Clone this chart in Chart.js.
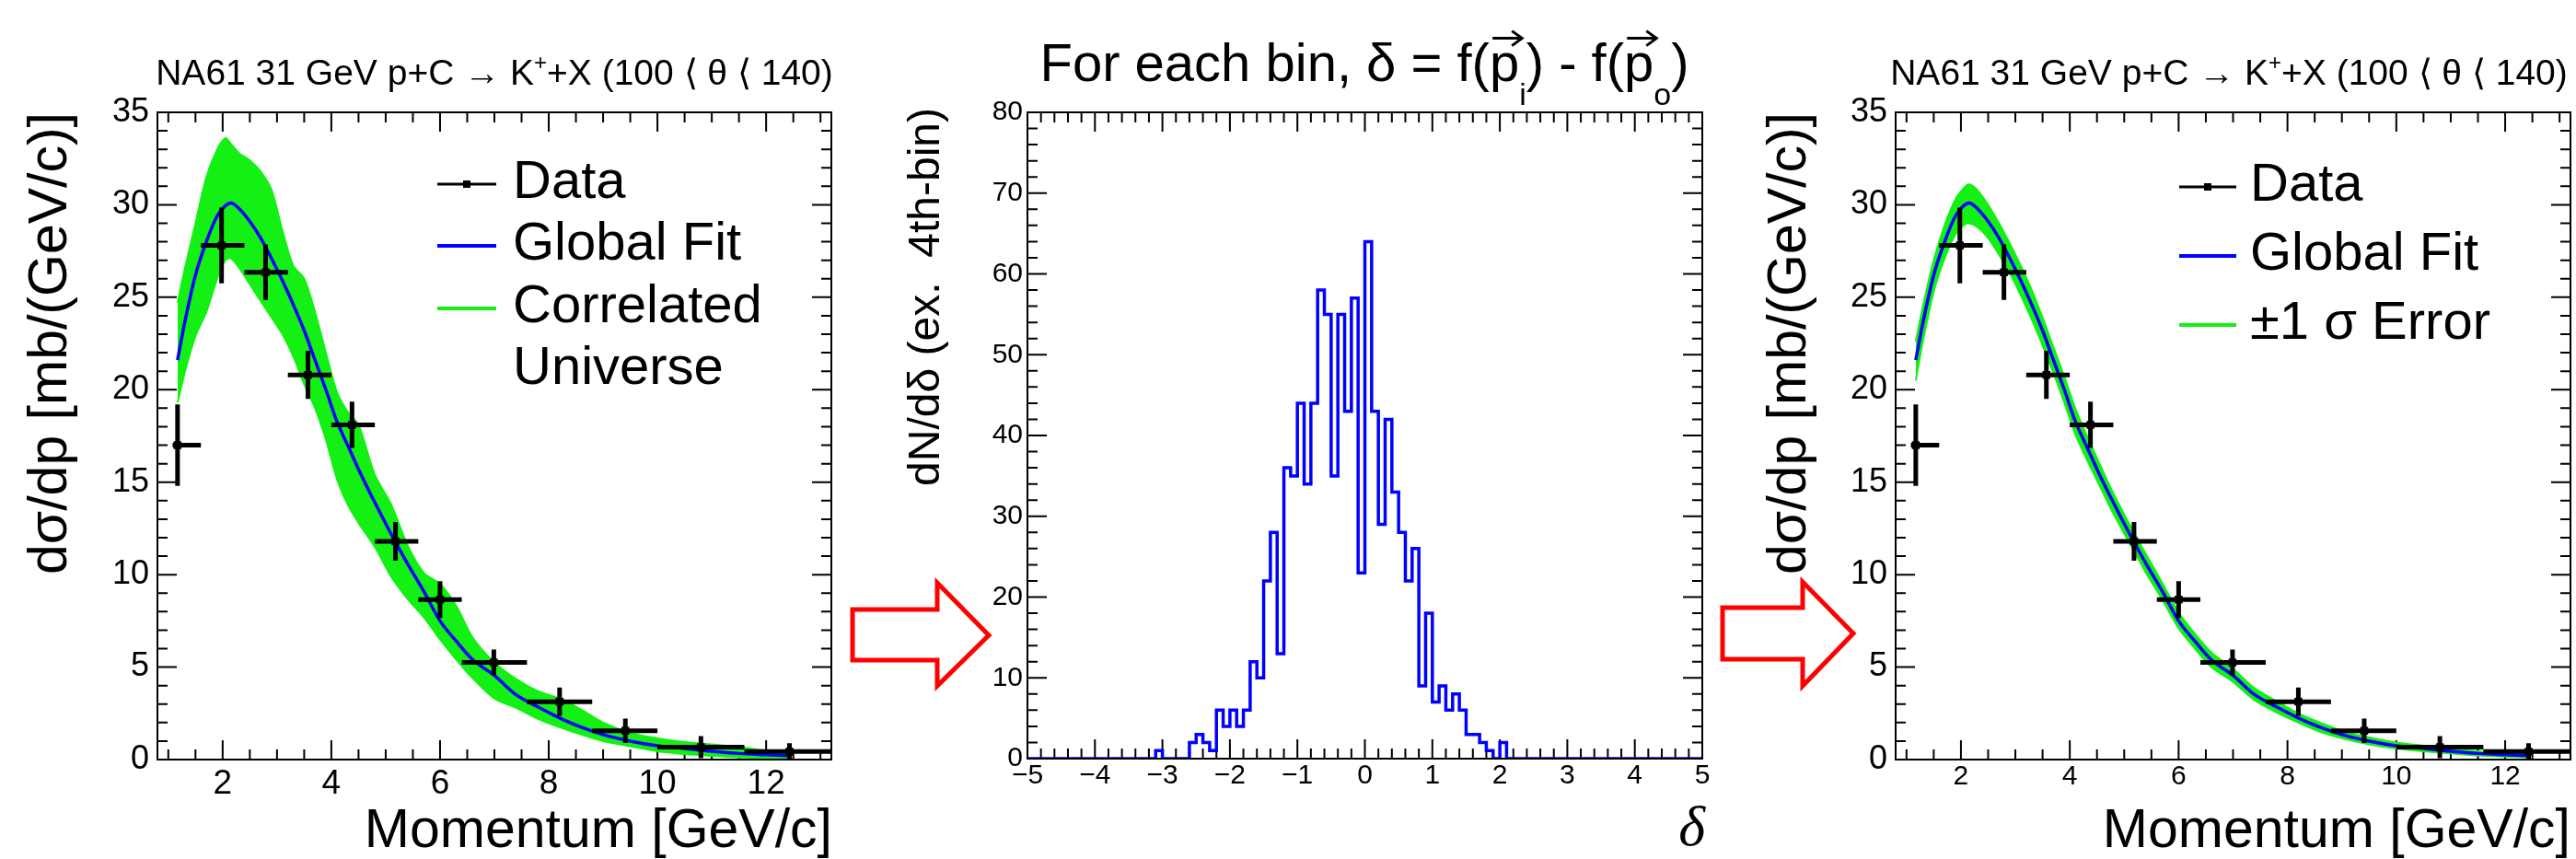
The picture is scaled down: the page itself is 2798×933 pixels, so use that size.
<!DOCTYPE html>
<html><head><meta charset="utf-8">
<script src="https://cdn.jsdelivr.net/npm/chart.js@4/dist/chart.umd.min.js"></script>
<style>
html,body{margin:0;padding:0;background:#fff;}
#wrap{position:relative;width:2798px;height:933px;overflow:hidden;background:#fff;}
.box{position:absolute;top:0;height:933px;}
canvas{display:block;}
svg{position:absolute;left:0;top:0;}
</style></head><body>
<div id="wrap">
  <div class="box" style="left:0px;width:930px"><canvas id="c1" width="930" height="933"></canvas></div>
  <div class="box" style="left:930px;width:950px"><canvas id="c2" width="950" height="933"></canvas></div>
  <div class="box" style="left:1880px;width:918px"><canvas id="c3" width="918" height="933"></canvas></div>
  <svg width="2798" height="933">
    <polygon points="926,662 1018,662 1018,633 1074,690 1018,745 1018,717 926,717" fill="#fff" stroke="#ff0000" stroke-width="5" stroke-linejoin="miter"/>
    <polygon points="1871,660 1958,660 1958,632 2013,688 1958,745 1958,716 1871,716" fill="#fff" stroke="#ff0000" stroke-width="5" stroke-linejoin="miter"/>
  </svg>
</div>
<script>
// ---------------- DATA ----------------
// Momentum grid on which curves were read (GeV/c)
const momentumGrid = [1.17,1.3,1.5,1.7,1.9,2.05,2.15,2.3,2.5,2.7,2.9,3.1,3.3,3.5,3.7,3.9,4.1,4.3,4.5,4.8,5.1,5.4,5.7,6.0,6.3,6.6,7.0,7.4,7.8,8.2,8.6,9.0,9.5,10.0,10.5,11.0,11.5,12.0,12.47];
const globalFit     = [21.6,23.6,26.2,28.0,29.4,29.95,30.1,29.8,29.1,28.2,27.1,25.9,24.6,23.2,21.6,20.0,18.3,17.0,15.7,13.9,12.2,10.6,9.1,7.5,6.4,5.4,4.55,3.5,2.85,2.25,1.75,1.35,1.0,0.75,0.6,0.45,0.33,0.26,0.2];
// Envelope of the correlated universes (left panel)
const universeUpper = [24.7,26.5,29.0,31.5,33.0,33.6,33.3,32.8,32.4,31.8,30.8,28.6,26.7,26.0,24.2,22.0,19.9,18.8,18.1,15.4,13.8,11.6,10.1,9.5,8.3,6.6,5.25,4.35,3.7,3.3,2.7,2.0,1.45,1.15,0.95,0.82,0.68,0.48,0.3];
const universeLower = [19.3,20.9,22.9,24.2,26.0,27.0,27.1,26.6,25.7,24.8,23.9,23.0,21.8,20.3,19.0,17.3,15.2,13.8,12.8,11.5,9.9,8.7,7.7,6.5,5.4,4.4,3.3,2.8,2.2,1.75,1.35,1.0,0.72,0.45,0.3,0.2,0.12,0.08,0.05];
// +-1 sigma error band (right panel)
const sigmaUpper = [22.6,24.5,27.0,28.9,30.3,30.9,31.1,30.8,30.0,29.0,27.9,26.7,25.4,23.9,22.3,20.7,19.0,17.6,16.3,14.4,12.7,11.1,9.55,7.95,6.8,5.8,4.9,3.85,3.15,2.5,2.0,1.55,1.2,0.92,0.75,0.58,0.45,0.36,0.3];
const sigmaLower = [20.5,22.6,25.3,27.1,28.4,28.9,29.0,28.8,28.2,27.3,26.3,25.1,23.8,22.4,20.9,19.3,17.6,16.3,15.1,13.3,11.7,10.1,8.65,7.1,6.0,5.0,4.2,3.2,2.55,2.0,1.5,1.15,0.82,0.6,0.45,0.33,0.22,0.16,0.12];
// NA61 data points
const dataP     = [1.17,1.98,2.79,3.57,4.38,5.18,6.0,6.99,8.2,9.41,10.8,12.43];
const dataXsec  = [17.0,27.8,26.35,20.8,18.1,11.8,8.65,5.25,3.13,1.56,0.67,0.43];
const dataPLow  = [1.08,1.6,2.4,3.2,4.0,4.8,5.6,6.4,7.6,8.8,10.0,11.6];
const dataPHigh = [1.6,2.4,3.2,4.0,4.8,5.6,6.4,7.6,8.8,10.0,11.6,13.2];
const dataErr   = [2.2,2.05,1.5,1.3,1.25,1.05,1.0,0.7,0.76,0.66,0.6,0.45];
// delta histogram (100 bins from -5 to 5)
const deltaBinStart = -5;
const deltaBinWidth = 0.1;
const deltaCounts = [0,0,0,0,0,0,0,0,0,0, 0,0,0,0,0,0,0,0,0,1,
                     0,0,0,0,2,3,2,1,6,4, 6,4,6,12,10,22,28,13,36,35,
                     44,34,44,58,55,35,55,43,57,23, 64,43,29,42,33,28,22,26,9,18,
                     7,9,6,8,6,3,3,2,1,0, 2,0,0,0,0,0,0,0,0,0,
                     0,0,0,0,0,0,0,0,0,0, 0,0,0,0,0,0,0,0,0,0];
// tick labels
const momTicks = [2,4,6,8,10,12];
const xsecTicks = [0,5,10,15,20,25,30,35];
const deltaTicks = [-5,-4,-3,-2,-1,0,1,2,3,4,5];
const deltaTickLabels = ['\u22125','\u22124','\u22123','\u22122','\u22121','0','1','2','3','4','5'];
const countTicks = [0,10,20,30,40,50,60,70,80];

// ---------------- HELPERS ----------------
const FONT = '"Liberation Sans", Arial, Helvetica, sans-serif';
const GREEN = '#14f014', BLUE = '#0000ff';
const pts = (xs, ys) => xs.map((x, i) => ({x, y: ys[i]}));
function hBars() {
  const o = [];
  dataP.forEach((p, i) => { o.push({x: dataPLow[i], y: dataXsec[i]}, {x: dataPHigh[i], y: dataXsec[i]}, {x: dataPHigh[i], y: null}); });
  return o;
}
function vBars() {
  const o = [];
  dataP.forEach((p, i) => { o.push({x: p, y: dataXsec[i] - dataErr[i]}, {x: p, y: dataXsec[i] + dataErr[i]}, {x: p, y: null}); });
  return o;
}
function histPoints() {
  const o = deltaCounts.map((c, i) => ({x: deltaBinStart + i * deltaBinWidth, y: c}));
  o.push({x: deltaBinStart + deltaCounts.length * deltaBinWidth, y: deltaCounts[deltaCounts.length - 1]});
  return o;
}
function frame(cfg) {
  return {
    id: 'rootFrame',
    beforeDatasetsDraw(chart) {
      const {ctx, chartArea: a, scales: {x, y}} = chart;
      ctx.save(); ctx.strokeStyle = '#000'; ctx.lineWidth = 2; ctx.beginPath();
      const xt = (step, len) => {
        for (let n = Math.ceil(x.min / step - 1e-6); n * step <= x.max + 1e-6; n++) {
          const px = x.getPixelForValue(n * step);
          ctx.moveTo(px, a.bottom); ctx.lineTo(px, a.bottom - len);
          ctx.moveTo(px, a.top); ctx.lineTo(px, a.top + len);
        }
      };
      const yt = (step, len) => {
        for (let n = Math.ceil(y.min / step - 1e-6); n * step <= y.max + 1e-6; n++) {
          const py = y.getPixelForValue(n * step);
          ctx.moveTo(a.left, py); ctx.lineTo(a.left + len, py);
          ctx.moveTo(a.right, py); ctx.lineTo(a.right - len, py);
        }
      };
      xt(cfg.xMinor, cfg.minLen); xt(cfg.xMajor, cfg.majLen);
      yt(cfg.yMinor, cfg.minLen); yt(cfg.yMajor, cfg.majLen);
      ctx.stroke(); ctx.restore();
    },
    afterDatasetsDraw(chart) {
      const {ctx, chartArea: a} = chart;
      ctx.save(); ctx.strokeStyle = '#000'; ctx.lineWidth = 2;
      ctx.strokeRect(a.left, a.top, a.right - a.left, a.bottom - a.top);
      ctx.restore();
    }
  };
}
function rich(ctx, segs, x, y, align) {
  let total = 0;
  segs.forEach(s => { ctx.font = `${s.italic ? 'italic ' : ''}${s.size}px ${s.family || FONT}`; s.w = ctx.measureText(s.t).width; total += s.w; });
  let cx = align === 'center' ? x - total / 2 : (align === 'right' ? x - total : x);
  ctx.textAlign = 'left'; ctx.textBaseline = 'alphabetic'; ctx.fillStyle = '#000';
  segs.forEach(s => {
    ctx.font = `${s.italic ? 'italic ' : ''}${s.size}px ${s.family || FONT}`;
    ctx.fillText(s.t, cx, y + (s.dy || 0));
    if (s.vec) {
      const ay = y - s.size * 0.8, x0 = cx + s.w * 0.1, x1 = cx + s.w + 3;
      ctx.save(); ctx.strokeStyle = '#000'; ctx.lineWidth = 3; ctx.beginPath();
      ctx.moveTo(x0, ay); ctx.lineTo(x1, ay);
      ctx.moveTo(x1 - 11, ay - 8); ctx.lineTo(x1, ay); ctx.lineTo(x1 - 11, ay + 8);
      ctx.stroke(); ctx.restore();
    }
    cx += s.w;
  });
}
function vText(ctx, t, x, y, size) {
  ctx.save(); ctx.translate(x, y); ctx.rotate(-Math.PI / 2);
  ctx.font = `${size}px ${FONT}`; ctx.fillStyle = '#000'; ctx.textAlign = 'right'; ctx.textBaseline = 'alphabetic';
  ctx.fillText(t, 0, 0); ctx.restore();
}
function hText(ctx, t, x, y, size, align, family, italic) {
  ctx.save(); ctx.font = `${italic ? 'italic ' : ''}${size}px ${family || FONT}`; ctx.fillStyle = '#000';
  ctx.textAlign = align; ctx.textBaseline = 'alphabetic'; ctx.fillText(t, x, y); ctx.restore();
}
function legend(ctx, x0, x1, tx, entries) {
  entries.forEach(e => {
    ctx.save(); ctx.strokeStyle = e.color; ctx.lineWidth = e.lw; ctx.beginPath();
    ctx.moveTo(x0, e.y); ctx.lineTo(x1, e.y); ctx.stroke();
    if (e.marker) { ctx.fillStyle = '#000'; ctx.fillRect((x0 + x1) / 2 - 4, e.y - 4, 8, 8); }
    ctx.restore();
    e.lines.forEach((l, k) => hText(ctx, l, tx, e.y + 15 + k * 67, 58, 'left'));
  });
}
function momScales(yw, tickSize, tickPad) {
  return {
    x: {type: 'linear', min: 0.8, max: 13.2,
        afterBuildTicks: s => { s.ticks = momTicks.map(v => ({value: v})); },
        afterFit: s => { s.height = 60; },
        grid: {display: false, drawTicks: false}, border: {display: false},
        ticks: {color: '#000', font: {family: FONT, size: tickSize}, padding: tickPad, maxRotation: 0, autoSkip: false,
                callback: v => String(momTicks[momTicks.indexOf(v)])}},
    y: {type: 'linear', min: 0, max: 35,
        afterBuildTicks: s => { s.ticks = xsecTicks.map(v => ({value: v})); },
        afterFit: s => { s.width = yw; },
        grid: {display: false, drawTicks: false}, border: {display: false},
        ticks: {color: '#000', font: {family: FONT, size: 36}, padding: 9, autoSkip: false,
                callback: v => String(xsecTicks[xsecTicks.indexOf(v)])}}
  };
}
function dataSets(bandUp, bandLo, bandLabel) {
  return [
    {label: 'Data x-err', data: hBars(), borderColor: '#000', borderWidth: 5, pointRadius: 0, spanGaps: false, fill: false, borderCapStyle: 'butt'},
    {label: 'Data y-err', data: vBars(), borderColor: '#000', borderWidth: 5, pointRadius: 0, spanGaps: false, fill: false, borderCapStyle: 'butt'},
    {label: 'Data', data: pts(dataP, dataXsec), showLine: false, pointStyle: 'rect', pointRadius: 6, backgroundColor: '#000', borderWidth: 0},
    {label: 'Global Fit', data: pts(momentumGrid, globalFit), borderColor: BLUE, borderWidth: 3.5, pointRadius: 0, fill: false, cubicInterpolationMode: 'monotone'},
    {label: bandLabel + ' upper', data: pts(momentumGrid, bandUp), borderColor: GREEN, borderWidth: 2, pointRadius: 0, fill: false, tension: 0.3},
    {label: bandLabel + ' lower', data: pts(momentumGrid, bandLo), borderColor: GREEN, borderWidth: 2, pointRadius: 0, fill: '-1', backgroundColor: GREEN, tension: 0.3}
  ];
}
const common = {responsive: false, animation: false, devicePixelRatio: 1,
  plugins: {legend: {display: false}, tooltip: {enabled: false}, title: {display: false}}};

// ---------------- LEFT ----------------
new Chart(document.getElementById('c1'), {
  type: 'line',
  data: {datasets: dataSets(universeUpper, universeLower, 'Correlated Universe')},
  options: Object.assign({}, common, {
    layout: {padding: {left: 0, right: 27, top: 122, bottom: 48}},
    scales: momScales(171, 37, 5)
  }),
  plugins: [frame({xMajor: 2, xMinor: 0.5, yMajor: 5, yMinor: 1, majLen: 21, minLen: 11}), {
    id: 'txt1', afterDraw(chart) {
      const ctx = chart.ctx;
      rich(ctx, [{t: 'NA61 31 GeV p+C \u2192 K', size: 39}, {t: '+', size: 24, dy: -16}, {t: '+X (100 \u27E8 \u03B8 \u27E8 140)', size: 39}], 537, 92, 'center');
      vText(ctx, 'd\u03C3/dp [mb/(GeV/c)]', 72, 122, 59);
      hText(ctx, 'Momentum [GeV/c]', 904, 920, 59, 'right');
      legend(ctx, 475, 539, 557, [
        {y: 200, color: '#000', lw: 3, marker: true, lines: ['Data']},
        {y: 267, color: BLUE, lw: 4, lines: ['Global Fit']},
        {y: 335, color: GREEN, lw: 4, lines: ['Correlated', 'Universe']}
      ]);
    }
  }]
});

// ---------------- MIDDLE ----------------
new Chart(document.getElementById('c2'), {
  type: 'line',
  data: {datasets: [
    {label: 'dN/d\u03B4', data: histPoints(), stepped: true, borderColor: BLUE, borderWidth: 3.5, pointRadius: 0, fill: false}
  ]},
  options: Object.assign({}, common, {
    layout: {padding: {left: 0, right: 31, top: 122, bottom: 49}},
    scales: {
      x: {type: 'linear', min: -5, max: 5,
          afterBuildTicks: s => { s.ticks = deltaTicks.map(v => ({value: v})); },
          afterFit: s => { s.height = 60; },
          grid: {display: false, drawTicks: false}, border: {display: false},
          ticks: {color: '#000', font: {family: FONT, size: 30}, padding: 1, maxRotation: 0, autoSkip: false,
                  callback: v => deltaTickLabels[deltaTicks.indexOf(v)]}},
      y: {type: 'linear', min: 0, max: 80,
          afterBuildTicks: s => { s.ticks = countTicks.map(v => ({value: v})); },
          afterFit: s => { s.width = 186; },
          grid: {display: false, drawTicks: false}, border: {display: false},
          ticks: {color: '#000', font: {family: FONT, size: 30}, padding: 5, autoSkip: false,
                  callback: v => String(countTicks[countTicks.indexOf(v)])}}
    }
  }),
  plugins: [frame({xMajor: 1, xMinor: 0.2, yMajor: 10, yMinor: 2, majLen: 21, minLen: 11}), {
    id: 'txt2', afterDraw(chart) {
      const ctx = chart.ctx;
      rich(ctx, [
        {t: 'For each bin, \u03B4 = f(', size: 58},
        {t: 'p', size: 58, vec: true},
        {t: 'i', size: 34, dy: 26},
        {t: ') - f(', size: 58},
        {t: 'p', size: 58, vec: true},
        {t: 'o', size: 34, dy: 26},
        {t: ')', size: 58}
      ], 552, 88, 'center');
      vText(ctx, 'dN/d\u03B4 (ex.  4th-bin)', 90, 117, 48);
      hText(ctx, '\u03B4', 922, 918, 62, 'right', '"Liberation Serif", "Times New Roman", serif', true);
    }
  }]
});

// ---------------- RIGHT ----------------
new Chart(document.getElementById('c3'), {
  type: 'line',
  data: {datasets: dataSets(sigmaUpper, sigmaLower, '\u00B11 \u03C3 Error')},
  options: Object.assign({}, common, {
    layout: {padding: {left: 0, right: 4, top: 122, bottom: 48}},
    scales: momScales(179, 30, 1)
  }),
  plugins: [frame({xMajor: 2, xMinor: 0.5, yMajor: 5, yMinor: 1, majLen: 21, minLen: 11}), {
    id: 'txt3', afterDraw(chart) {
      const ctx = chart.ctx;
      rich(ctx, [{t: 'NA61 31 GeV p+C \u2192 K', size: 39}, {t: '+', size: 24, dy: -16}, {t: '+X (100 \u27E8 \u03B8 \u27E8 140)', size: 39}], 541, 92, 'center');
      vText(ctx, 'd\u03C3/dp [mb/(GeV/c)]', 81, 122, 59);
      hText(ctx, 'Momentum [GeV/c]', 912, 920, 59, 'right');
      legend(ctx, 487, 549, 564, [
        {y: 203, color: '#000', lw: 3, marker: true, lines: ['Data']},
        {y: 278, color: BLUE, lw: 4, lines: ['Global Fit']},
        {y: 353, color: GREEN, lw: 4, lines: ['\u00B11 \u03C3 Error']}
      ]);
    }
  }]
});
</script>
</body></html>
